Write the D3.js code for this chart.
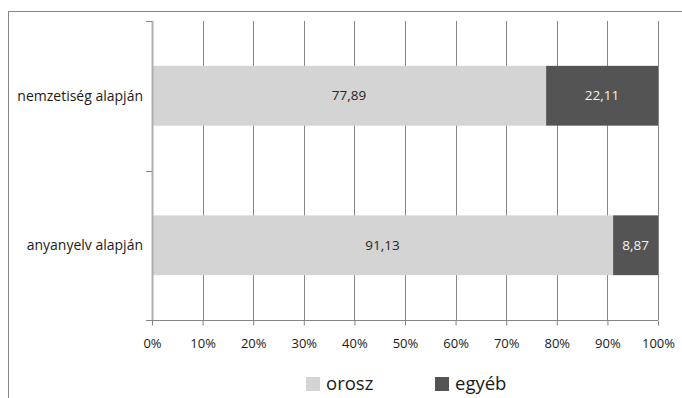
<!DOCTYPE html>
<html>
<head>
<meta charset="utf-8">
<script src="https://cdn.jsdelivr.net/npm/d3@7"></script>
<style>
  html, body { margin: 0; padding: 0; background: #fff; }
  svg { display: block; font-family: "Open Sans", Lato, sans-serif; }
</style>
</head>
<body>
<svg id="chart" width="682" height="398"></svg>
<script>
// Share of Russian vs. other, by nationality and by mother tongue (percent)
const categories = ["nemzetiség alapján", "anyanyelv alapján"];
const seriesNames = ["orosz", "egyéb"];
const orosz = [77.89, 91.13];
const egyeb = [22.11, 8.87];
const tickValues = [0, 10, 20, 30, 40, 50, 60, 70, 80, 90, 100];
const tickLabels = ["0%", "10%", "20%", "30%", "40%", "50%", "60%", "70%", "80%", "90%", "100%"];

const colors = { "orosz": "#d4d4d4", "egyéb": "#545454" };
const labelColors = { "orosz": "#262626", "egyéb": "#f2f2f2" };
const textFont = "'Open Sans', Lato, sans-serif";

const svg = d3.select("#chart");

// outer chart frame (runs past the right and bottom edges)
svg.append("rect")
  .attr("x", 8.5).attr("y", 11.5)
  .attr("width", 700).attr("height", 420)
  .attr("fill", "none").attr("stroke", "#868686").attr("stroke-width", 1);

const plot = { left: 152, right: 658, top: 21, bottom: 320 };

const x = d3.scaleLinear().domain([0, 100]).range([plot.left, plot.right]);
const y = d3.scaleBand().domain(categories)
  .range([plot.top, plot.bottom]).paddingInner(0.6).paddingOuter(0.3);
const yb = d3.scaleBand().domain(categories).range([plot.top, plot.bottom]);

// vertical gridlines
svg.append("g").selectAll("line")
  .data(tickValues.filter(v => v > 0))
  .join("line")
  .attr("x1", d => Math.round(x(d)) + 0.5).attr("x2", d => Math.round(x(d)) + 0.5)
  .attr("y1", plot.top).attr("y2", plot.bottom)
  .attr("stroke", "#868686").attr("stroke-width", 1);

// stacked bars
const rows = categories.map((c, i) => ({ cat: c, values: { "orosz": orosz[i], "egyéb": egyeb[i] } }));
const stack = d3.stack().keys(seriesNames).value((d, k) => d.values[k]);
const layers = stack(rows);

const gBars = svg.append("g");
layers.forEach(layer => {
  const key = layer.key;
  gBars.append("g").selectAll("rect")
    .data(layer)
    .join("rect")
    .attr("x", d => x(d[0]))
    .attr("width", d => x(d[1]) - x(d[0]))
    .attr("y", d => y(d.data.cat))
    .attr("height", y.bandwidth())
    .attr("fill", colors[key]);
  gBars.append("g").selectAll("text")
    .data(layer)
    .join("text")
    .attr("x", d => (x(d[0]) + x(d[1])) / 2)
    .attr("y", d => y(d.data.cat) + y.bandwidth() / 2)
    .attr("dy", "0.35em")
    .attr("text-anchor", "middle")
    .attr("font-size", 13.5)
    .attr("fill", labelColors[key])
    .text(d => d3.format(".2f")(d.data.values[key]).replace(".", ","));
});

// x axis
const xAxis = d3.axisBottom(x).tickValues(tickValues)
  .tickFormat((d, i) => tickLabels[i]).tickSize(5).tickPadding(13);
const gx = svg.append("g").attr("transform", `translate(0,${plot.bottom + 0.5})`).call(xAxis);
gx.select(".domain").attr("stroke", "#868686").attr("d", `M${plot.left - 6},0H${plot.right}`);
gx.selectAll(".tick line").attr("stroke", "#868686");
gx.selectAll(".tick text").attr("font-size", 13).attr("fill", "#1a1a1a")
  .attr("font-family", textFont);

// y axis line and category-boundary ticks
const gy = svg.append("g");
gy.append("line")
  .attr("x1", plot.left + 0.5).attr("x2", plot.left + 0.5)
  .attr("y1", plot.top).attr("y2", plot.bottom)
  .attr("stroke", "#adadad").attr("stroke-width", 2);
const boundaries = [plot.top, ...categories.slice(1).map(c => yb(c)), plot.bottom];
gy.selectAll("line.b").data(boundaries).join("line")
  .attr("class", "b")
  .attr("x1", plot.left - 6).attr("x2", plot.left)
  .attr("y1", d => Math.round(d) + 0.5).attr("y2", d => Math.round(d) + 0.5)
  .attr("stroke", "#868686");
gy.selectAll("text").data(categories).join("text")
  .attr("x", plot.left - 9)
  .attr("y", d => y(d) + y.bandwidth() / 2)
  .attr("dy", "0.35em")
  .attr("text-anchor", "end")
  .attr("font-size", 14)
  .attr("fill", "#1a1a1a")
  .text(d => d);

// legend
const legend = svg.append("g");
const legendItems = [{ key: "orosz", x: 306 }, { key: "egyéb", x: 435 }];
legendItems.forEach(it => {
  legend.append("rect").attr("x", it.x).attr("y", 377)
    .attr("width", 14).attr("height", 14).attr("fill", colors[it.key]);
  legend.append("text").attr("x", it.x + 20).attr("y", 384)
    .attr("dy", "0.35em").attr("font-size", 18.5).attr("fill", "#1a1a1a")
    .text(it.key);
});
</script>
</body>
</html>
